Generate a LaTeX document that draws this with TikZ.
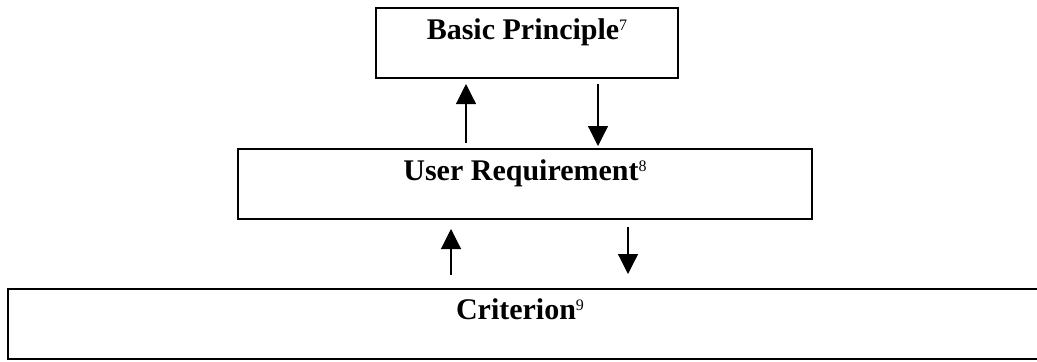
\documentclass[tikz,border=0pt]{standalone}
\usepackage{fontspec}
\setmainfont{Liberation Serif}
\usetikzlibrary{arrows.meta, positioning}

\begin{document}
\begin{tikzpicture}[x=0.5pt, y=-0.5pt, line cap=rect,
    box/.style={draw, line width=1pt, inner xsep=0pt, inner ysep=0pt,
        minimum height=35pt, text height=15.5pt, text depth=19.5pt,
        font=\fontsize{15}{17}\selectfont\bfseries},
    flow/.style={-{Triangle[length=10pt, width=10pt]}, line width=0.6pt}]
    \useasboundingbox (0,0) rectangle (1037,361);
    \newcommand{\fn}[1]{\raisebox{4.5pt}{\normalfont\fontsize{8}{8}\selectfont #1}}
    % the three levels
    \node[box, minimum width=151pt] (basic) at (527,43) {Basic Principle\fn{7}};
    \node[box, minimum width=287pt] (user) at (525,184) {User Requirement\fn{8}};
    \node[box, minimum width=546pt] (crit) at (554,324) {};
    \node[anchor=base, inner sep=0pt, font=\fontsize{15}{17}\selectfont\bfseries]
        (crittext) at (520,319) {Criterion\fn{9}};
    % columns of the arrows
    \coordinate (up1) at (466,0);
    \coordinate (dn1) at (598,0);
    \coordinate (up2) at (451,0);
    \coordinate (dn2) at (628,0);
    % arrows between the levels
    \draw[flow, shorten <=3pt, shorten >=2.5pt] (user.north -| up1) -- (basic.south -| up1);
    \draw[flow, shorten <=3pt, shorten >=1pt] (basic.south -| dn1) -- (user.north -| dn1);
    \draw[flow, shorten <=7pt, shorten >=4.5pt] (crit.north -| up2) -- (user.south -| up2);
    \draw[flow, shorten <=4pt, shorten >=7pt] (user.south -| dn2) -- (crit.north -| dn2);
\end{tikzpicture}
\end{document}
